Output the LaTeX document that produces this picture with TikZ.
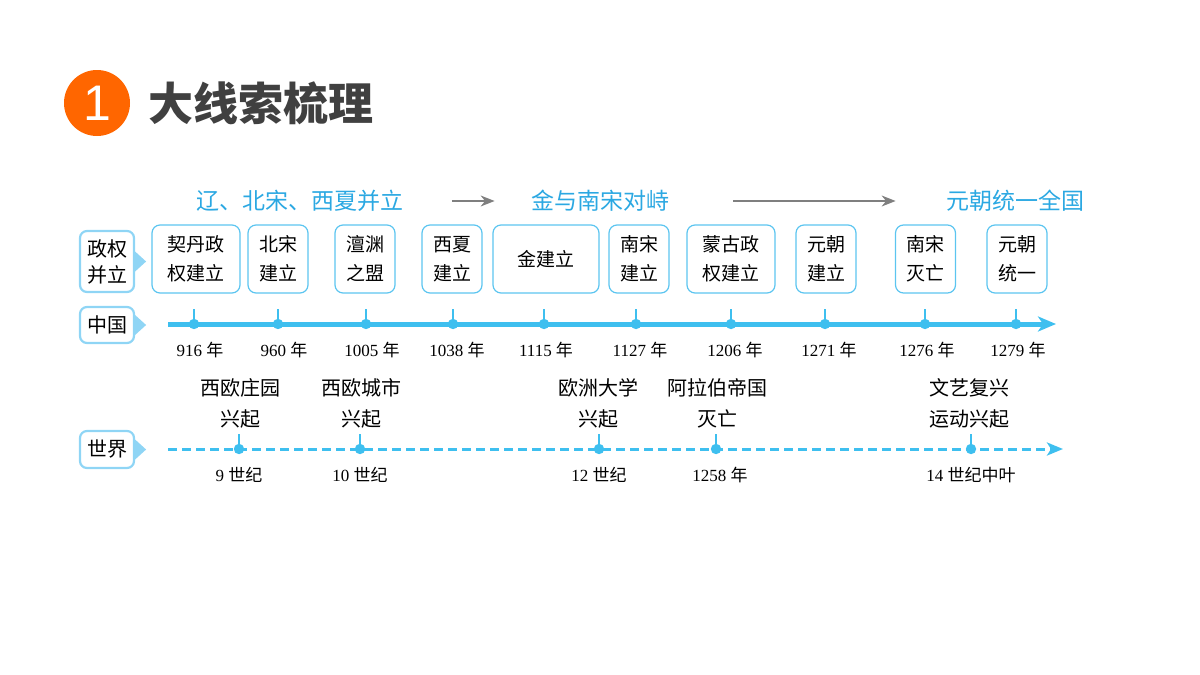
\documentclass[tikz,border=0pt]{standalone}
\usepackage{fontspec}
\setmainfont{Liberation Serif}
\setsansfont{Liberation Sans}
\newfontfamily\cjk{Noto Sans CJK SC}
\usetikzlibrary{arrows.meta, positioning}

\definecolor{lineblue}{HTML}{3EBFEF}
\definecolor{boxblue}{HTML}{5CC5F0}
\definecolor{tagblue}{HTML}{8FD5F5}
\definecolor{titlegray}{HTML}{404040}
\definecolor{headblue}{HTML}{2BA8E2}
\definecolor{badgeorange}{HTML}{FF6600}
\definecolor{flowgray}{HTML}{7F7F7F}

\newcommand{\nian}[1]{#1 {\cjk 年}}
\newcommand{\shiji}[1]{#1 {\cjk 世纪}}

\begin{document}
\begin{tikzpicture}[
    x=0.5pt, y=-0.5pt,
    event/.style={rectangle, draw=boxblue, line width=0.6pt, rounded corners=4pt, minimum height=34pt, minimum width=30pt, align=center, inner sep=0pt, font=\cjk\fontsize{9.5}{14.5}\selectfont},
    tag/.style={rectangle, draw=tagblue, line width=1.1pt, rounded corners=3.5pt, minimum width=27pt, align=center, inner sep=0pt, font=\cjk\fontsize{10}{13}\selectfont},
    dot/.style={circle, fill=lineblue, inner sep=0pt, minimum size=5.2pt},
    tick/.style={lineblue, line width=0.8pt},
    year/.style={inner sep=0pt, font=\fontsize{8.5}{10}\selectfont},
    world/.style={align=center, inner sep=0pt, font=\cjk\fontsize{10}{15.5}\selectfont},
    head/.style={inner sep=0pt, text=headblue, font=\cjk\fontsize{11.5}{12}\selectfont},
    flow/.style={-{Stealth[length=7pt, width=5.5pt]}, flowgray, line width=0.65pt},
    cnline/.style={-{Stealth[length=9pt, width=7.5pt, inset=2.5pt]}, lineblue, line width=2.5pt},
    wdline/.style={-{Stealth[length=8pt, width=6.5pt, inset=2pt]}, lineblue, line width=1.5pt, dash pattern=on 4.5pt off 2.5pt}
]
\useasboundingbox (0,0) rectangle (1200,675);

% Title
\node[circle, fill=badgeorange, minimum size=33pt, inner sep=0pt, text=white, font=\sffamily\fontsize{25}{25}\selectfont] (badge) at (97,103) {1};
\node[anchor=west, inner sep=0pt, text=titlegray, font=\cjk\bfseries\fontsize{22.5}{24}\selectfont] (title) at (148,103) {大线索梳理};

% Periods
\node[head] (hd1) at (300,201) {辽、北宋、西夏并立};
\node[head] (hd2) at (600,201) {金与南宋对峙};
\node[head] (hd3) at (1015,201) {元朝统一全国};
\draw[flow, shorten <=24pt, shorten >=18pt] (hd1.east) -- (hd2.west);
\draw[flow, shorten <=32pt, shorten >=25pt] (hd2.east) -- (hd3.west);

% Row tags
\node[tag, minimum height=30.5pt] (tagZQ) at (107,261.5) {政权\\并立};
\node[tag, minimum height=18pt] (tagCN) at (107,325) {中国};
\node[tag, minimum height=18.5pt] (tagSJ) at (107,449.5) {世界};
\fill[tagblue] ([yshift=5pt]tagZQ.east) -- ++(11,10) -- ++(-11,10) -- cycle;
\fill[tagblue] ([yshift=5pt]tagCN.east) -- ++(11,10) -- ++(-11,10) -- cycle;
\fill[tagblue] ([yshift=5pt]tagSJ.east) -- ++(11,10) -- ++(-11,10) -- cycle;

% China timeline
\coordinate (cnS) at (168,324);
\coordinate (cnE) at (1056,324);
\draw[cnline] (cnS) -- (cnE);

\node[dot] (d916) at (194,324) {};
\node[dot] (d960) at (278,324) {};
\node[dot] (d1005) at (366,324) {};
\node[dot] (d1038) at (453,324) {};
\node[dot] (d1115) at (544,324) {};
\node[dot] (d1127) at (636,324) {};
\node[dot] (d1206) at (731,324) {};
\node[dot] (d1271) at (825,324) {};
\node[dot] (d1276) at (925,324) {};
\node[dot] (d1279) at (1016,324) {};

\draw[tick] (d916.center) -- ++(0,-15);
\draw[tick] (d960.center) -- ++(0,-15);
\draw[tick] (d1005.center) -- ++(0,-15);
\draw[tick] (d1038.center) -- ++(0,-15);
\draw[tick] (d1115.center) -- ++(0,-15);
\draw[tick] (d1127.center) -- ++(0,-15);
\draw[tick] (d1206.center) -- ++(0,-15);
\draw[tick] (d1271.center) -- ++(0,-15);
\draw[tick] (d1276.center) -- ++(0,-15);
\draw[tick] (d1279.center) -- ++(0,-15);

\node[year, below=6pt of d916, xshift=3pt] {\nian{916}};
\node[year, below=6pt of d960, xshift=3pt] {\nian{960}};
\node[year, below=6pt of d1005, xshift=3pt] {\nian{1005}};
\node[year, below=6pt of d1038, xshift=2pt] {\nian{1038}};
\node[year, below=6pt of d1115, xshift=1pt] {\nian{1115}};
\node[year, below=6pt of d1127, xshift=2pt] {\nian{1127}};
\node[year, below=6pt of d1206, xshift=2pt] {\nian{1206}};
\node[year, below=6pt of d1271, xshift=2pt] {\nian{1271}};
\node[year, below=6pt of d1276, xshift=1pt] {\nian{1276}};
\node[year, below=6pt of d1279, xshift=1pt] {\nian{1279}};

% Regimes
\node[event, minimum width=44pt] (qidan) at (196,259) {契丹政\\权建立};
\node[event] (beisong) at (278,259) {北宋\\建立};
\node[event] (chanyuan) at (365,259) {澶渊\\之盟};
\node[event] (xixia) at (452,259) {西夏\\建立};
\node[event, minimum width=53pt] (jin) at (546,259) {金建立};
\node[event] (nansong) at (639,259) {南宋\\建立};
\node[event, minimum width=44pt] (menggu) at (731,259) {蒙古政\\权建立};
\node[event] (yuan) at (826,259) {元朝\\建立};
\node[event] (songwang) at (925.5,259) {南宋\\灭亡};
\node[event] (tongyi) at (1017,259) {元朝\\统一};

% World timeline
\coordinate (wdS) at (168,449);
\coordinate (wdE) at (1063,449);
\draw[wdline] (wdS) -- (wdE);

\node[dot] (w9) at (239,449) {};
\node[dot] (w10) at (360,449) {};
\node[dot] (w12) at (599,449) {};
\node[dot] (w1258) at (716,449) {};
\node[dot] (w14) at (971,449) {};

\draw[tick] (w9.center) -- ++(0,-15);
\draw[tick] (w10.center) -- ++(0,-15);
\draw[tick] (w12.center) -- ++(0,-15);
\draw[tick] (w1258.center) -- ++(0,-15);
\draw[tick] (w14.center) -- ++(0,-15);

\node[world] (zhuangyuan) at (240,403) {西欧庄园\\兴起};
\node[world] (chengshi) at (361,403) {西欧城市\\兴起};
\node[world] (daxue) at (598,403) {欧洲大学\\兴起};
\node[world] (alabo) at (717,403) {阿拉伯帝国\\灭亡};
\node[world] (wenyi) at (969,403) {文艺复兴\\运动兴起};

\node[year, below=6pt of w9] {\shiji{9}};
\node[year, below=6pt of w10] {\shiji{10}};
\node[year, below=6pt of w12] {\shiji{12}};
\node[year, below=6pt of w1258, xshift=2pt] {\nian{1258}};
\node[year, below=6pt of w14] {\shiji{14}{\cjk 中叶}};

\end{tikzpicture}
\end{document}
